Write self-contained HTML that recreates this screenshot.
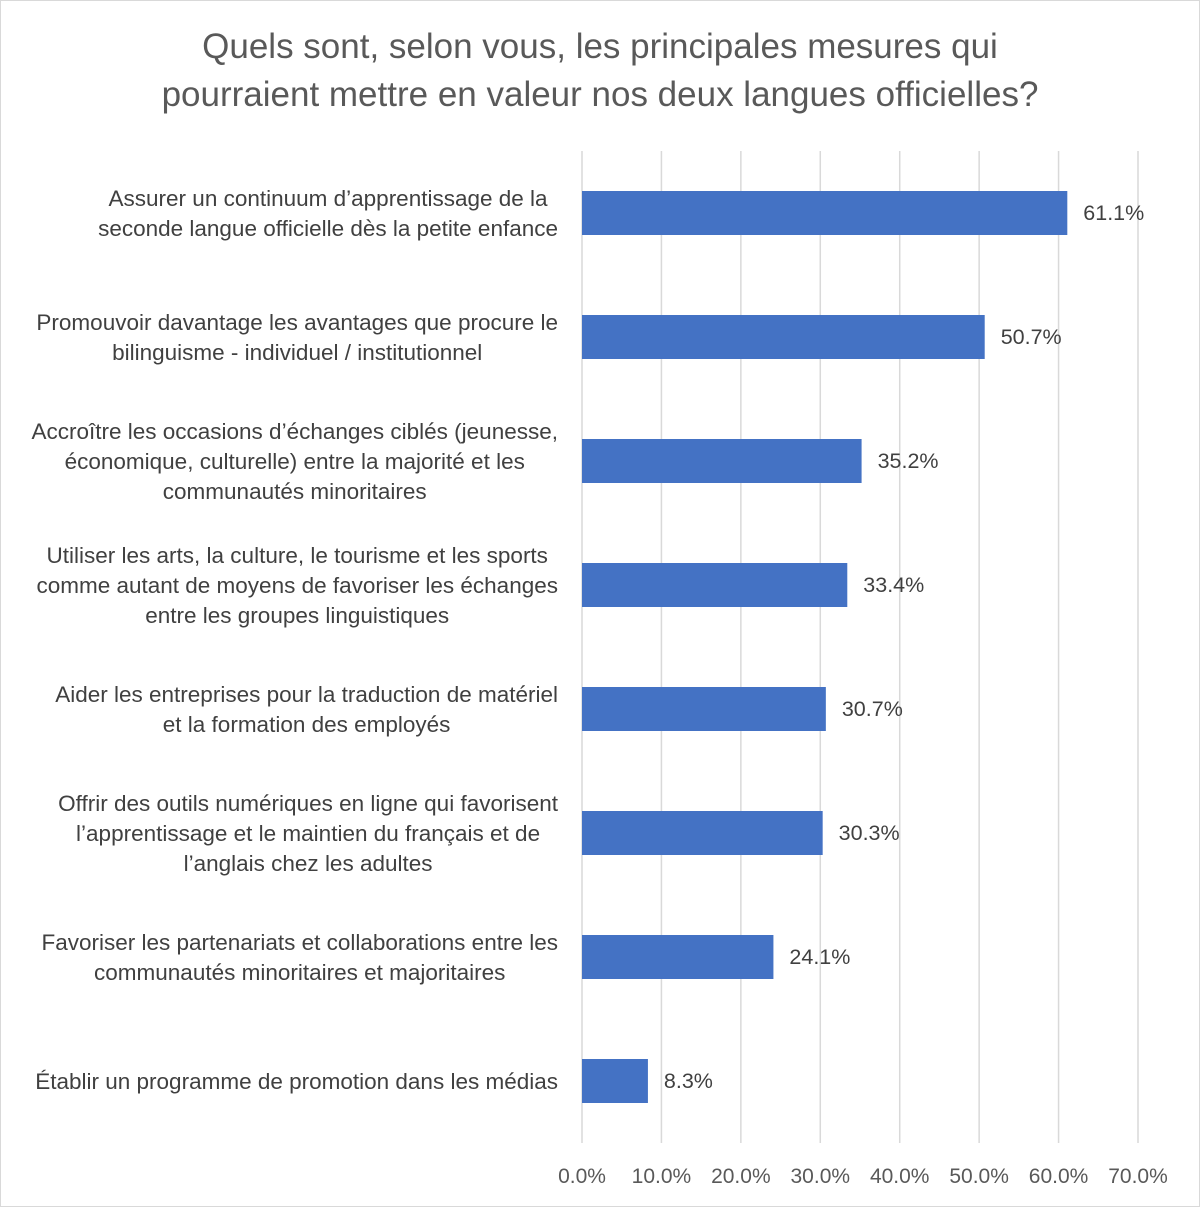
<!DOCTYPE html>
<html><head><meta charset="utf-8"><style>
body{margin:0;background:#fff;}
svg{display:block;font-family:"Liberation Sans",sans-serif;}
</style></head><body>
<svg id="chart" width="1200" height="1207" viewBox="0 0 1200 1207">
<rect x="0.5" y="0.5" width="1199" height="1206" fill="#fff" stroke="#d9d9d9"/>
<text x="600" y="58" text-anchor="middle" font-size="35" fill="#595959">Quels sont, selon vous, les principales mesures qui</text>
<text x="600" y="106" text-anchor="middle" font-size="35" fill="#595959">pourraient mettre en valeur nos deux langues officielles?</text>
<g id="grid"></g><g id="bars"></g><g id="labels"></g><g id="ticks"></g>
</svg>
<script>
const categories=[
["Assurer un continuum d’apprentissage de la","seconde langue officielle dès la petite enfance"],
["Promouvoir davantage les avantages que procure le","bilinguisme - individuel / institutionnel"],
["Accroître les occasions d’échanges ciblés (jeunesse,","économique, culturelle) entre la majorité et les","communautés minoritaires"],
["Utiliser les arts, la culture, le tourisme et les sports","comme autant de moyens de favoriser les échanges","entre les groupes linguistiques"],
["Aider les entreprises pour la traduction de matériel","et la formation des employés"],
["Offrir des outils numériques en ligne qui favorisent","l’apprentissage et le maintien du français et de","l’anglais chez les adultes"],
["Favoriser les partenariats et collaborations entre les","communautés minoritaires et majoritaires"],
["Établir un programme de promotion dans les médias"]];
const values=[61.1,50.7,35.2,33.4,30.7,30.3,24.1,8.3];
const ticks=[0,10,20,30,40,50,60,70];
const NS="http://www.w3.org/2000/svg";
const x0=582,x1=1138,xmax=70,plotTop=151,band=124,bh=44;
const xs=v=>x0+(x1-x0)*v/xmax;
const yc=i=>plotTop+band*i+band/2;
function mk(t,a,p){const e=document.createElementNS(NS,t);for(const k in a)e.setAttribute(k,a[k]);document.getElementById(p).appendChild(e);return e;}
ticks.forEach(t=>{
const l=mk('line',{x1:xs(t),x2:xs(t),y1:plotTop,y2:plotTop+band*8,stroke:'#d9d9d9','stroke-width':1.5},'grid');


const tx=mk('text',{x:xs(t),y:1183,'text-anchor':'middle','font-size':21,fill:'#595959'},'ticks');
tx.textContent=t.toFixed(1)+'%';


});
values.forEach((v,i)=>{
const r=mk('rect',{x:x0,y:yc(i)-bh/2,width:xs(v)-x0,height:bh,fill:'#4472c4'},'bars');


const t=mk('text',{x:xs(v)+16,y:yc(i)+7,'font-size':21.5,fill:'#404040'},'labels');
t.textContent=v.toFixed(1)+'%';


const lines=categories[i],n=lines.length;
const els=lines.map((s,j)=>{
const c=mk('text',{x:558,y:yc(i)+8+(j-(n-1)/2)*30,'text-anchor':'middle','font-size':22.5,fill:'#404040'},'labels');
c.textContent=s;


return c;
});
let mw=0;els.forEach(e=>{mw=Math.max(mw,e.getComputedTextLength());});
els.forEach(e=>e.setAttribute('x',558-mw/2));
});
</script>
</body></html>
